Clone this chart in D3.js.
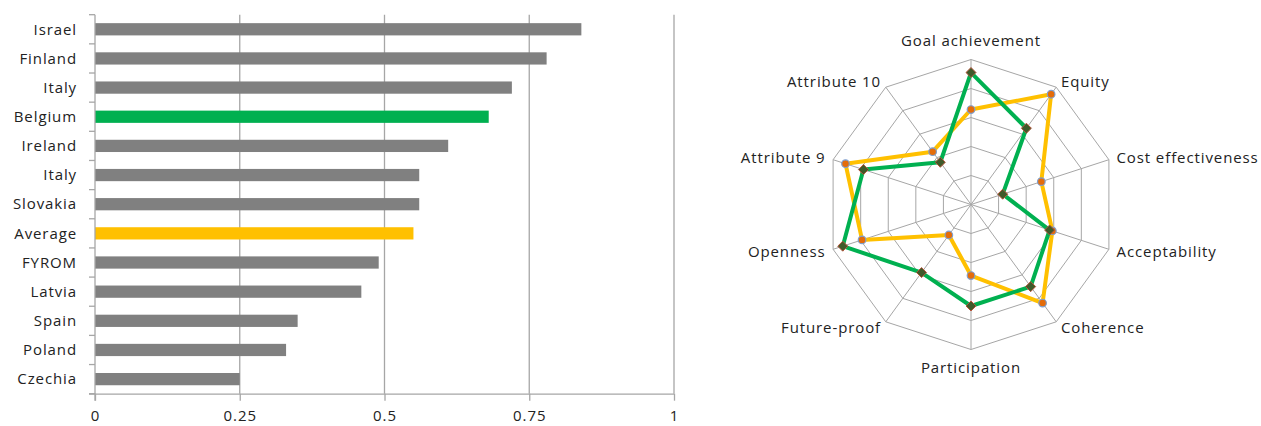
<!DOCTYPE html>
<html>
<head>
<meta charset="utf-8">
<script src="https://cdn.jsdelivr.net/npm/d3@7"></script>
<style>
  body { margin: 0; background: #fff; }
  svg text { font-family: "Open Sans", sans-serif; font-size: 15px; fill: #222; letter-spacing: 0.9px; }
</style>
</head>
<body>
<svg id="chart" width="1261" height="426"></svg>
<script>
// bar chart data
const countries = ["Israel", "Finland", "Italy", "Belgium", "Ireland", "Italy", "Slovakia",
  "Average", "FYROM", "Latvia", "Spain", "Poland", "Czechia"];
const scores = [0.84, 0.78, 0.72, 0.68, 0.61, 0.56, 0.56, 0.55, 0.49, 0.46, 0.35, 0.33, 0.25];
const xTicks = [0, 0.25, 0.5, 0.75, 1];

// radar data
const attributes = ["Goal achievement", "Equity", "Cost effectiveness", "Acceptability", "Coherence",
  "Participation", "Future-proof", "Openness", "Attribute 9", "Attribute 10"];
const belgiumScores = [0.91, 0.65, 0.23, 0.57, 0.70, 0.70, 0.58, 0.93, 0.78, 0.36];
const averageScores = [0.655, 0.94, 0.51, 0.59, 0.84, 0.49, 0.26, 0.79, 0.91, 0.45];
const rings = [0.2, 0.4, 0.6, 0.8, 1];

const GREY = "#808080", GREEN = "#00b050", YELLOW = "#ffc000", GRID = "#a6a6a6";

const svg = d3.select("#chart");

// ---- bar chart ----
const x = d3.scaleLinear().domain([0, 1]).range([95, 674]);
const y = d3.scaleBand()
  .domain(d3.range(countries.length))
  .range([14.7, 393.7])
  .paddingInner(0.58)
  .paddingOuter(0.29);
const step = y.step();

const bars = svg.append("g");

// vertical gridlines
bars.append("g")
  .selectAll("line")
  .data(xTicks.slice(1))
  .join("line")
  .attr("x1", d => x(d)).attr("x2", d => x(d))
  .attr("y1", y.range()[0]).attr("y2", y.range()[1])
  .attr("stroke", GRID).attr("stroke-width", 1.3);

bars.append("g")
  .selectAll("rect")
  .data(scores)
  .join("rect")
  .attr("x", x(0))
  .attr("y", (d, i) => y(i))
  .attr("width", d => x(d) - x(0))
  .attr("height", y.bandwidth())
  .attr("fill", (d, i) => countries[i] === "Belgium" ? GREEN : countries[i] === "Average" ? YELLOW : GREY);

// bottom axis
const xAxis = bars.append("g")
  .attr("transform", `translate(0,${y.range()[1]})`)
  .call(d3.axisBottom(x).tickValues(xTicks).tickFormat(d => d).tickSize(7).tickPadding(10).tickSizeOuter(0));
xAxis.select(".domain").attr("stroke", GRID).attr("stroke-width", 1.3)
  .attr("d", `M${x(0) - 6},0.5H${x(1)}`);
xAxis.selectAll(".tick line").attr("stroke", GRID).attr("stroke-width", 1.3);
xAxis.selectAll("text").attr("font-size", null).attr("font-family", null).attr("fill", null);

// left axis with ticks at category boundaries
const yAxis = bars.append("g");
yAxis.append("line")
  .attr("x1", x(0)).attr("x2", x(0))
  .attr("y1", y.range()[0]).attr("y2", y.range()[1] + 7)
  .attr("stroke", GRID).attr("stroke-width", 1.3);
yAxis.selectAll(".bt")
  .data(d3.range(countries.length + 1))
  .join("line")
  .attr("x1", x(0) - 6).attr("x2", x(0))
  .attr("y1", i => y.range()[0] + i * step).attr("y2", i => y.range()[0] + i * step)
  .attr("stroke", GRID).attr("stroke-width", 1.3);
yAxis.selectAll("text")
  .data(countries)
  .join("text")
  .attr("x", 77)
  .attr("y", (d, i) => y(i) + y.bandwidth() / 2)
  .attr("dy", "0.35em")
  .attr("text-anchor", "end")
  .text(d => d);

// ---- radar chart ----
const cx = 971, cy = 204.5;
const r = d3.scaleLinear().domain([0, 1]).range([0, 145]);
const angle = i => i * 2 * Math.PI / attributes.length;
const pt = (v, i) => [cx + r(v) * Math.sin(angle(i)), cy - r(v) * Math.cos(angle(i))];

const radar = svg.append("g");

radar.selectAll(".ring")
  .data(rings)
  .join("polygon")
  .attr("points", v => attributes.map((a, i) => pt(v, i).join(",")).join(" "))
  .attr("fill", "none").attr("stroke", GRID).attr("stroke-width", 1);

radar.selectAll(".spoke")
  .data(attributes)
  .join("line")
  .attr("x1", cx).attr("y1", cy)
  .attr("x2", (a, i) => pt(1, i)[0]).attr("y2", (a, i) => pt(1, i)[1])
  .attr("stroke", GRID).attr("stroke-width", 1);

const line = d3.line().curve(d3.curveLinearClosed);

radar.append("path")
  .attr("d", line(averageScores.map(pt)))
  .attr("fill", "none").attr("stroke", YELLOW).attr("stroke-width", 4).attr("stroke-linejoin", "round");
radar.selectAll(".avgPt")
  .data(averageScores)
  .join("circle")
  .attr("cx", (v, i) => pt(v, i)[0]).attr("cy", (v, i) => pt(v, i)[1])
  .attr("r", 3.8)
  .attr("fill", "#e46c0a").attr("stroke", "#7f9fcf").attr("stroke-width", 1.2);

radar.append("path")
  .attr("d", line(belgiumScores.map(pt)))
  .attr("fill", "none").attr("stroke", GREEN).attr("stroke-width", 4).attr("stroke-linejoin", "round");
radar.selectAll(".bePt")
  .data(belgiumScores)
  .join("path")
  .attr("d", d3.symbol(d3.symbolDiamond2, 64))
  .attr("transform", (v, i) => `translate(${pt(v, i)})`)
  .attr("fill", "#3f5a2a").attr("stroke", "#b5543a").attr("stroke-width", 1);

radar.selectAll(".lbl")
  .data(attributes)
  .join("text")
  .attr("text-anchor", (a, i) => {
    const s = Math.sin(angle(i));
    return Math.abs(s) < 0.1 ? "middle" : s > 0 ? "start" : "end";
  })
  .attr("x", (a, i) => pt(1, i)[0] + 8 * Math.sin(angle(i)))
  .attr("y", (a, i) => {
    const c = Math.cos(angle(i));
    const k = Math.abs(Math.sin(angle(i))) < 0.1 ? 18.5 : 7;
    return pt(1, i)[1] - k * c;
  })
  .attr("dy", "0.35em")
  .text(d => d);
</script>
</body>
</html>
